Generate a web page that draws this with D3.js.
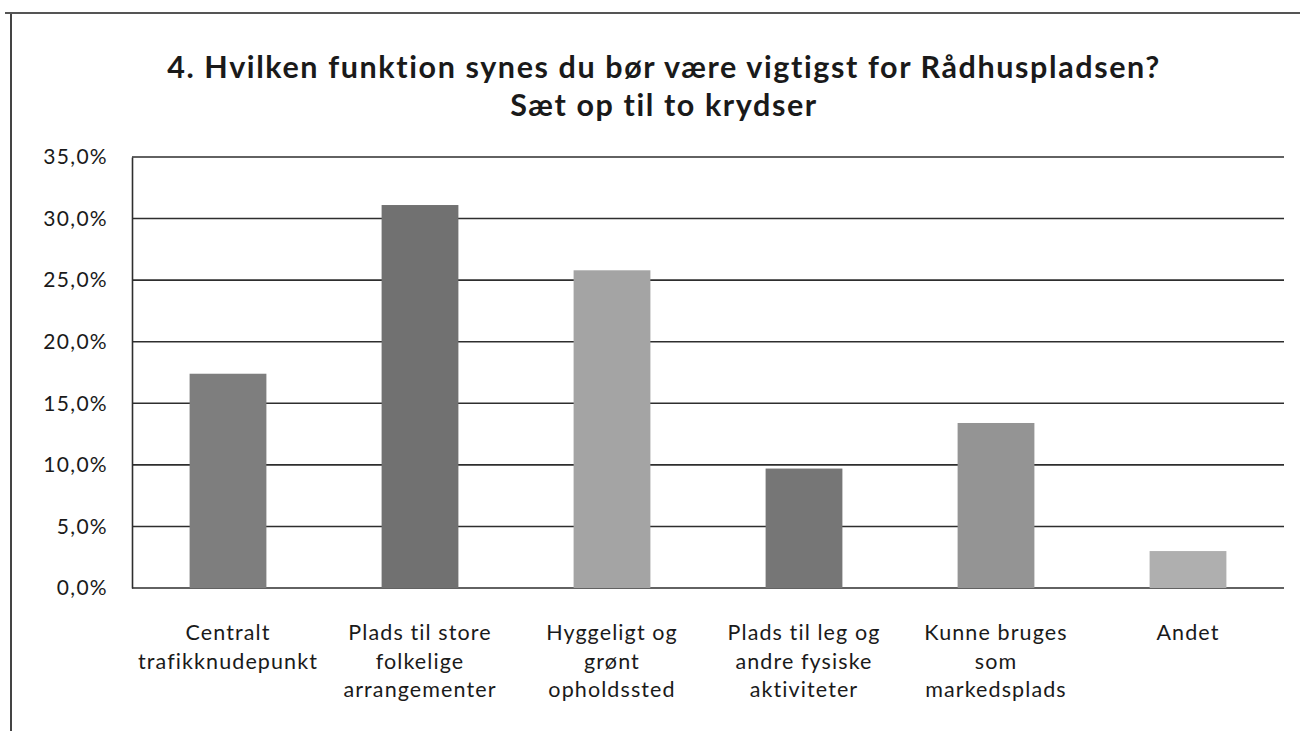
<!DOCTYPE html>
<html>
<head>
<meta charset="utf-8">
<script src="https://cdn.jsdelivr.net/npm/d3@7"></script>
<style>
  html, body { margin: 0; padding: 0; background: #fff; }
  svg text { font-family: Lato, "Open Sans", sans-serif; fill: #1a1a1a; }
</style>
</head>
<body>
<svg id="chart" width="1300" height="731"></svg>
<script>
const categories = [
  ['Centralt', 'trafikknudepunkt'],
  ['Plads til store', 'folkelige', 'arrangementer'],
  ['Hyggeligt og', 'grønt', 'opholdssted'],
  ['Plads til leg og', 'andre fysiske', 'aktiviteter'],
  ['Kunne bruges', 'som', 'markedsplads'],
  ['Andet']
];
const values = [17.4, 31.1, 25.8, 9.7, 13.4, 3.0];
const barColors = ['#7e7e7e', '#717171', '#a4a4a4', '#767676', '#949494', '#afafaf'];
const yTicks = [0, 5, 10, 15, 20, 25, 30, 35];
const titleLines = ['4. Hvilken funktion synes du bør være vigtigst for Rådhuspladsen?', 'Sæt op til to krydser'];

const svg = d3.select('#chart');
const margin = { left: 132, right: 16, top: 157, bottom: 143 };
const W = 1300, H = 731;

// scanned page frame
svg.append('line').attr('x1', 11).attr('x2', 11).attr('y1', 13).attr('y2', 731)
  .attr('stroke', '#444').attr('stroke-width', 2);
svg.append('line').attr('x1', 5).attr('x2', 1300).attr('y1', 13).attr('y2', 13)
  .attr('stroke', '#555').attr('stroke-width', 2);

const x = d3.scaleBand()
  .domain(d3.range(categories.length))
  .range([margin.left, W - margin.right])
  .paddingInner(0.6)
  .paddingOuter(0.3);

const y = d3.scaleLinear().domain([0, 35]).range([H - margin.bottom, margin.top]);

// gridlines
svg.append('g')
  .selectAll('line')
  .data(yTicks)
  .join('line')
  .attr('x1', margin.left).attr('x2', W - margin.right)
  .attr('y1', d => y(d)).attr('y2', d => y(d))
  .attr('stroke', '#2e2e2e').attr('stroke-width', 1.6);

// y axis
const yAxis = d3.axisLeft(y)
  .tickValues(yTicks)
  .tickSize(0)
  .tickPadding(24)
  .tickFormat(d => d.toFixed(1).replace('.', ',') + '%');
const gy = svg.append('g').attr('transform', `translate(${margin.left},0)`).call(yAxis);
gy.select('.domain').attr('stroke', '#2e2e2e').attr('stroke-width', 1.6);
gy.selectAll('text')
  .attr('font-size', 21)
  .attr('letter-spacing', 1.3)
  .attr('fill', '#1a1a1a');

// bars
svg.append('g')
  .selectAll('rect')
  .data(values)
  .join('rect')
  .attr('x', (d, i) => x(i))
  .attr('width', x.bandwidth())
  .attr('y', d => y(d))
  .attr('height', d => y(0) - y(d))
  .attr('fill', (d, i) => barColors[i]);

// category labels
const lab = svg.append('g')
  .selectAll('text')
  .data(categories)
  .join('text')
  .attr('text-anchor', 'middle')
  .attr('font-size', 21.5)
  .attr('letter-spacing', 1.1)
  .attr('x', (d, i) => x(i) + x.bandwidth() / 2)
  .attr('y', 640);
lab.selectAll('tspan')
  .data(d => d)
  .join('tspan')
  .attr('x', function () { return d3.select(this.parentNode).attr('x'); })
  .attr('dy', (d, i) => i === 0 ? 0 : 28.5)
  .text(d => d);

// title
svg.append('g')
  .selectAll('text')
  .data(titleLines)
  .join('text')
  .attr('text-anchor', 'middle')
  .attr('x', 664)
  .attr('y', (d, i) => 78 + i * 38)
  .attr('font-size', 30.5)
  .attr('letter-spacing', 1.6)
  .attr('font-weight', 'bold')
  .text(d => d);
</script>
</body>
</html>
